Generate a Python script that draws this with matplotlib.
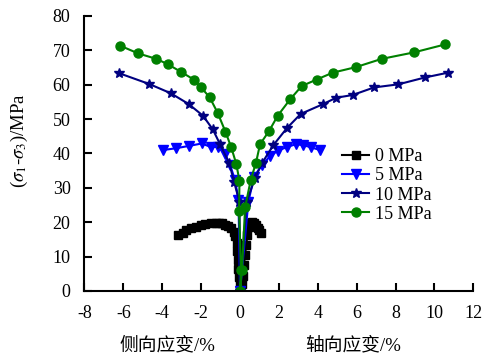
import matplotlib
matplotlib.use("Agg")
import matplotlib.pyplot as plt

plt.rcParams['font.family'] = ['Liberation Serif', 'Noto Sans CJK SC']
plt.rcParams['mathtext.fontset'] = 'stix'
plt.rcParams['axes.unicode_minus'] = False

# confining pressure labels
labels = ["0 MPa", "5 MPa", "10 MPa", "15 MPa"]

# 0 MPa: lateral branch (end -> origin) then axial branch (origin -> end)
x0 = [-3.17, -2.95, -2.76, -2.5, -2.29, -2.0, -1.78, -1.5, -1.26, -1.1, -0.92, -0.75,
      -0.6, -0.45, -0.33, -0.24, -0.18, -0.14, -0.11, -0.08, -0.05, -0.02, 0.0,
      0.1, 0.15, 0.2, 0.26, 0.32, 0.38, 0.45, 0.52, 0.6, 0.7, 0.8, 0.9, 1.0, 1.1]
y0 = [16.3, 17.0, 17.7, 18.3, 18.7, 19.2, 19.5, 19.8, 19.9, 19.9, 19.7, 19.3,
      18.9, 18.2, 17.2, 16.0, 14.0, 11.5, 9.0, 6.5, 4.0, 2.0, 0.0,
      2.0, 4.5, 7.5, 10.5, 13.5, 16.2, 18.5, 19.8, 20.2, 19.8, 19.2, 18.4, 17.6, 17.0]

# 5 MPa
x5 = [-3.95, -3.31, -2.62, -1.97, -1.51, -1.12, -0.77, -0.51, -0.26, -0.08, 0.0,
      0.43, 0.72, 1.12, 1.54, 1.94, 2.43, 2.88, 3.25, 3.65, 4.1]
y5 = [41.0, 41.5, 42.2, 42.9, 41.9, 41.9, 39.8, 36.6, 32.3, 26.5, 0.0,
      26.0, 33.2, 36.6, 39.2, 40.8, 41.9, 42.7, 42.4, 41.8, 41.0]

# 10 MPa
x10 = [-6.2, -4.67, -3.56, -2.65, -1.91, -1.40, -1.03, -0.55, -0.31, -0.03, 0.0,
       0.34, 0.77, 1.12, 1.71, 2.40, 3.12, 4.25, 4.94, 5.79, 6.89, 8.14, 9.51, 10.7]
y10 = [63.3, 60.2, 57.5, 54.4, 51.0, 47.0, 42.7, 37.1, 31.8, 26.0, 0.0,
       26.0, 32.8, 37.1, 42.4, 47.3, 51.5, 54.3, 56.2, 57.0, 59.2, 60.1, 62.1, 63.5]

# 15 MPa
x15 = [-6.15, -5.24, -4.30, -3.70, -3.06, -2.38, -2.0, -1.56, -1.15, -0.75, -0.46,
       -0.19, -0.03, -0.05, 0.05, 0.0,
       0.1, 0.26, 0.55, 0.82, 1.03, 1.49, 1.94, 2.57, 3.17, 3.94, 4.77, 5.95,
       7.28, 8.95, 10.54]
y15 = [71.3, 69.1, 67.5, 65.9, 63.8, 61.5, 59.2, 56.3, 51.8, 46.3, 41.9,
       36.9, 32.0, 23.3, 6.1, 0.0,
       6.1, 24.3, 32.3, 37.3, 42.7, 46.5, 51.0, 55.7, 59.6, 61.5, 63.5, 65.1,
       67.5, 69.4, 71.7]

fig = plt.figure(figsize=(4.87, 3.54), dpi=100)
ax = fig.add_axes([0.1735, 0.178, 0.7985, 0.777])

ax.plot(x0, y0, color='black', marker='s', markersize=5.5, lw=1.5, label=labels[0])
ax.plot(x5, y5, color='#0000FF', marker='v', markersize=6.5, lw=1.5, label=labels[1])
ax.plot(x10, y10, color='#000080', marker='*', markersize=7.5, lw=1.5, label=labels[2])
ax.plot(x15, y15, color='#008000', marker='o', markersize=6.5, lw=1.5, label=labels[3])

ax.set_xlim(-8, 12)
ax.set_ylim(0, 80)
ax.set_xticks(range(-8, 13, 2))
ax.set_yticks(range(0, 81, 10))
ax.spines['top'].set_visible(False)
ax.spines['right'].set_visible(False)
for s in ['left', 'bottom']:
    ax.spines[s].set_linewidth(1.5)
ax.tick_params(direction='in', length=6, width=1.5, labelsize=13)
ax.tick_params(axis='y', pad=10)
ax.tick_params(axis='x', pad=10)

ax.set_ylabel('(' + r'$\sigma_1$' + '-' + r'$\sigma_3$' + ')/MPa', fontsize=13.5)
ax.yaxis.set_label_coords(-0.14, 0.545)
ax.text(0.213, -0.2, '侧向应变/%', transform=ax.transAxes, ha='center', va='center', fontsize=13.5)
ax.text(0.692, -0.2, '轴向应变/%', transform=ax.transAxes, ha='center', va='center', fontsize=13.5)

ax.legend(loc='upper left', bbox_to_anchor=(0.63, 0.565), frameon=False, fontsize=13,
          handlelength=1.5, handletextpad=0.3, labelspacing=0.12, borderpad=0.2)

fig.savefig('out.png', dpi=100)
